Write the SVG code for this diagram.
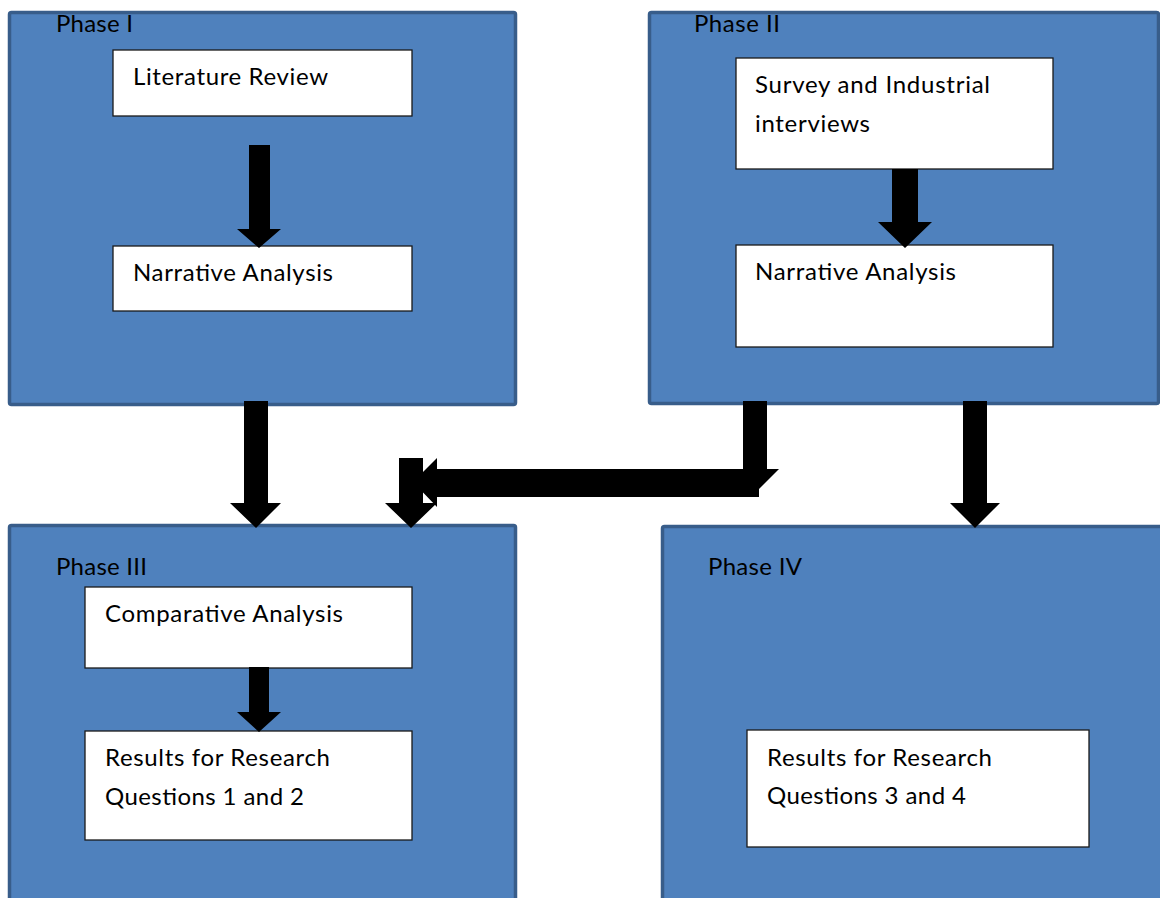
<svg xmlns="http://www.w3.org/2000/svg" width="1160" height="898" viewBox="0 0 1160 898">
<style>
.panel{fill:#4f81bd;stroke:#385d8a;stroke-width:3.5}
.box{fill:#ffffff;stroke:#1a1a1a;stroke-width:1.3}
.t{font-family:Lato,"Open Sans","Liberation Sans",sans-serif;font-size:24px;fill:#000}
.arr{fill:#000;stroke:none}
</style>
<rect width="1160" height="898" fill="#ffffff"/>
<g id="phase1">
<rect class="panel" x="9.5" y="12.5" width="506" height="392" rx="2"/>
<text class="t" x="56" y="32" textLength="77">Phase I</text>
</g>
<g id="phase2">
<rect class="panel" x="649.5" y="12.5" width="509" height="391" rx="2"/>
<text class="t" x="694" y="32" textLength="86">Phase II</text>
</g>
<g id="phase3">
<rect class="panel" x="9.5" y="525.5" width="506" height="400" rx="2"/>
<text class="t" x="56" y="575" textLength="91">Phase III</text>
</g>
<g id="phase4">
<rect class="panel" x="662.5" y="526.5" width="510" height="400" rx="2"/>
<text class="t" x="708" y="575" textLength="94">Phase IV</text>
</g>
<g id="literature-review">
<rect class="box" x="113" y="50" width="299" height="66"/>
<text class="t" x="133" y="85" textLength="195">Literature Review</text>
</g>
<g id="narrative-analysis-1">
<rect class="box" x="113" y="246" width="299" height="65"/>
<text class="t" x="133" y="281" textLength="200">Narrative Analysis</text>
</g>
<g id="survey">
<rect class="box" x="736" y="58" width="317" height="111"/>
<text class="t" x="755" y="93" textLength="235">Survey and Industrial</text>
<text class="t" x="755" y="132" textLength="115">interviews</text>
</g>
<g id="narrative-analysis-2">
<rect class="box" x="736" y="245" width="317" height="102"/>
<text class="t" x="755" y="280" textLength="201">Narrative Analysis</text>
</g>
<g id="comparative-analysis">
<rect class="box" x="85" y="587" width="327" height="81"/>
<text class="t" x="105" y="622" textLength="238">Comparative Analysis</text>
</g>
<g id="results-1-2">
<rect class="box" x="85" y="731" width="327" height="109"/>
<text class="t" x="105" y="766" textLength="225">Results for Research</text>
<text class="t" x="105" y="805" textLength="199">Questions 1 and 2</text>
</g>
<g id="results-3-4">
<rect class="box" x="747" y="730" width="342" height="117"/>
<text class="t" x="767" y="766" textLength="225">Results for Research</text>
<text class="t" x="767" y="804" textLength="199">Questions 3 and 4</text>
</g>
<g id="connectors">
<polygon class="arr" points="249,145 270,145 270,229 281,229 259,248 237,229 249,229"/>
<polygon class="arr" points="892,169 918,169 918,222 932,222 905,248 878,222 892,222"/>
<polygon class="arr" points="249,667 269,667 269,712 281,712 259,732 237,712 249,712"/>
<polygon class="arr" points="244,401 268,401 268,503 281,503 256,528 230,503 244,503"/>
<polygon class="arr" points="963,401 987,401 987,503 1000,503 975,528 950,503 963,503"/>
<polygon class="arr" points="743,401 767,401 767,469 779,469 756,492 733,469 743,469"/>
<polygon class="arr" points="759,469 759,497 437,497 437,507 413,482 437,458 437,469"/>
<polygon class="arr" points="399,458 423,458 423,503 437,503 411,528 385,503 399,503"/>
</g>
</svg>
